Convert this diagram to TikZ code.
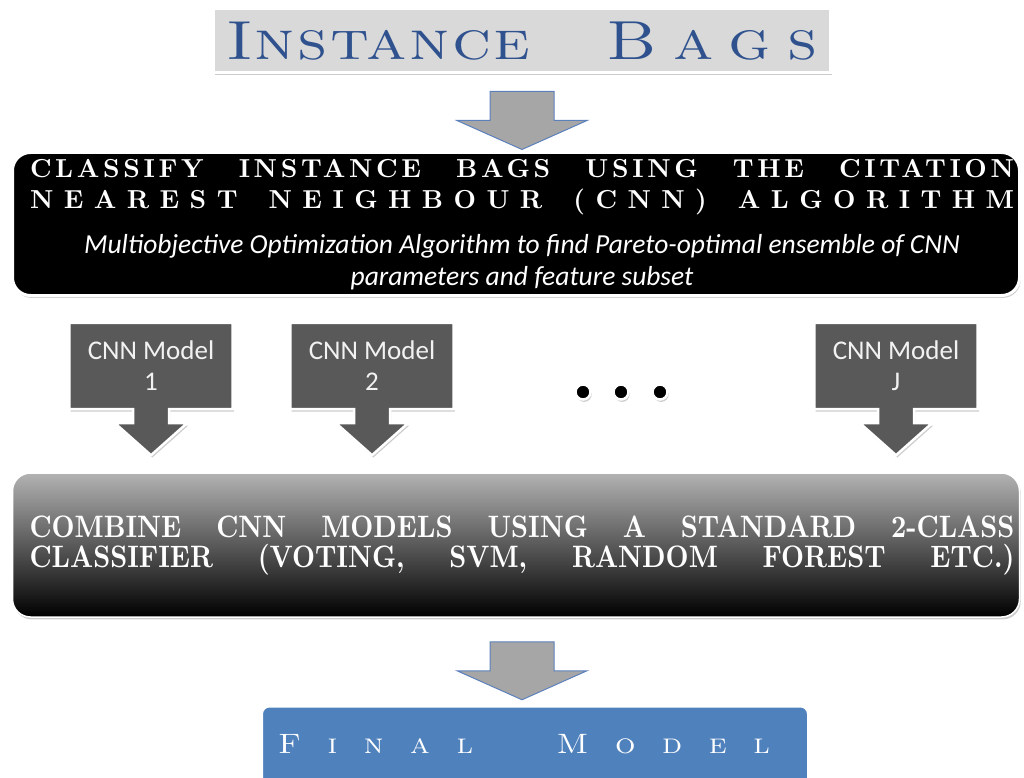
\documentclass[tikz,border=0pt]{standalone}
\usepackage{fontspec}
\usepackage{tikz}
\usetikzlibrary{calc,positioning,shadows,backgrounds}
\newfontfamily\calibri{Carlito}
\newfontfamily\lmcaps[Extension=.otf, SmallCapsFont=lmromancaps10-regular,
  BoldFont=lmroman10-bold]{lmroman10-regular}
\definecolor{bagfill}{RGB}{217,217,217}
\definecolor{bagblue}{RGB}{47,82,143}
\definecolor{arrfill}{RGB}{166,166,166}
\definecolor{arrline}{RGB}{92,128,188}
\definecolor{modgray}{RGB}{89,89,89}
\definecolor{finblue}{RGB}{79,129,189}
\tikzset{
  shd/.style={drop shadow={shadow xshift=1.2pt, shadow yshift=-2.4pt, opacity=0.4}},
  panel/.style={draw=white, line width=3pt, shd, inner sep=0pt},
  bigarr/.style={fill=arrfill, draw=arrline, line width=1pt},
  hdtxt/.style={text=white, align=center, inner sep=0pt, font=\lmcaps\bfseries\fontsize{26}{31}\selectfont},
  notetxt/.style={text=white, align=center, inner sep=0pt, font=\calibri\itshape\fontsize{27.5}{32}\selectfont},
  modbox/.style={minimum width=163pt, minimum height=86pt, inner sep=0pt, align=center,
                 text=white!95!black, font=\calibri\fontsize{27}{31}\selectfont},
  modshape/.style={fill=modgray, draw=white, line width=2.5pt, shd},
  dotnode/.style={circle, fill=black, draw=white, line width=2.5pt, minimum size=15pt, inner sep=0pt, shd},
}
\newcommand{\bigarrow}[1]{% grey block arrow, #1 = top of the shaft
  \begin{scope}[shift={(#1)}]
    \draw[bigarr] (-32,0) -- (32,0) -- (32,29) -- (65,29) -- (0,58) -- (-65,29) -- (-32,29) -- cycle;
  \end{scope}}
\newcommand{\modarrow}[1]{% callout outline round node #1
  \draw[modshape] (#1.north west) -- (#1.north east) -- (#1.south east)
    -- ($(#1.south)+(18,0)$) -- ($(#1.south)+(18,14)$) -- ($(#1.south)+(36,14)$)
    -- ($(#1.south)+(0,46)$) -- ($(#1.south)+(-36,14)$) -- ($(#1.south)+(-18,14)$)
    -- ($(#1.south)+(-18,0)$) -- (#1.south west) -- cycle;}

\begin{document}
\begin{tikzpicture}[x=1pt, y=-1pt]
  \useasboundingbox (0,0) rectangle (1024,778);
  \clip (0,0) rectangle (1024,778);
  % top
  \node[panel, fill=bagfill, minimum width=617pt, minimum height=64pt, text=bagblue,
        font=\lmcaps\fontsize{55}{55}\selectfont\scshape] (bags) at (522,41)
       {\makebox[592pt][s]{{\addfontfeature{FakeStretch=1.2,LetterSpace=4}Instance}
                           {\addfontfeature{FakeStretch=1.2,LetterSpace=30}Bags}}};
  \node[panel, fill=black, rounded corners=18pt, minimum width=1007pt, minimum height=143pt]
       (classify) at (516,224) {};
  \node[hdtxt] (clhead) at (522,187)
       {{\addfontfeature{LetterSpace=14}\makebox[984pt][s]{CLASSIFY INSTANCE BAGS USING THE CITATION}}\\
        {\addfontfeature{LetterSpace=40}\makebox[984pt][s]{NEAREST NEIGHBOUR (CNN) ALGORITHM}}};
  \node[notetxt] (clnote) at (522,262)
       {Multiobjective Optimization Algorithm to find Pareto-optimal ensemble of CNN\\
        parameters and feature subset};
  \bigarrow{$(bags.south)+(0,17)$}
  % models
  \foreach \n/\x/\t in {m1/151/1, m2/372/2, mj/896/J}{
    \node[modbox] (\n) at (\x,366) {CNN Model\\\t};
    \begin{scope}[on background layer]
      \modarrow{\n}
    \end{scope}
  }
  \foreach \i/\x in {1/583, 2/621, 3/660}
    \node[dotnode] (dot\i) at (\x,392) {};
  % combine
  \node[panel, line width=1.5pt, rounded corners=18pt, top color=black!30, bottom color=black,
        minimum width=1007pt, minimum height=144pt] (combine) at (516,545) {};
  \node[text=white, align=center, inner sep=0pt, font=\lmcaps\bfseries\fontsize{31}{30}\selectfont]
       (cbtxt) at (522,546)
       {{\addfontfeature{FakeStretch=0.86}\makebox[985pt][s]{COMBINE CNN MODELS USING A STANDARD 2-CLASS}}\\
        {\addfontfeature{FakeStretch=0.86}\makebox[985pt][s]{CLASSIFIER (VOTING, SVM, RANDOM FOREST ETC.)}}};
  \bigarrow{$(bags.south |- combine.south)+(0,24)$}
  % final
  \node[panel, fill=finblue, rounded corners=8pt, minimum width=547pt, minimum height=84pt]
       (final) at (535,748) {};
  \node[text=white, inner sep=0pt, font=\lmcaps\fontsize{28}{28}\selectfont\scshape] (fintxt) at (524,744)
       {\addfontfeature{FakeStretch=1.15,LetterSpace=95}\makebox[492pt][s]{Final Model}};
\end{tikzpicture}
\end{document}
